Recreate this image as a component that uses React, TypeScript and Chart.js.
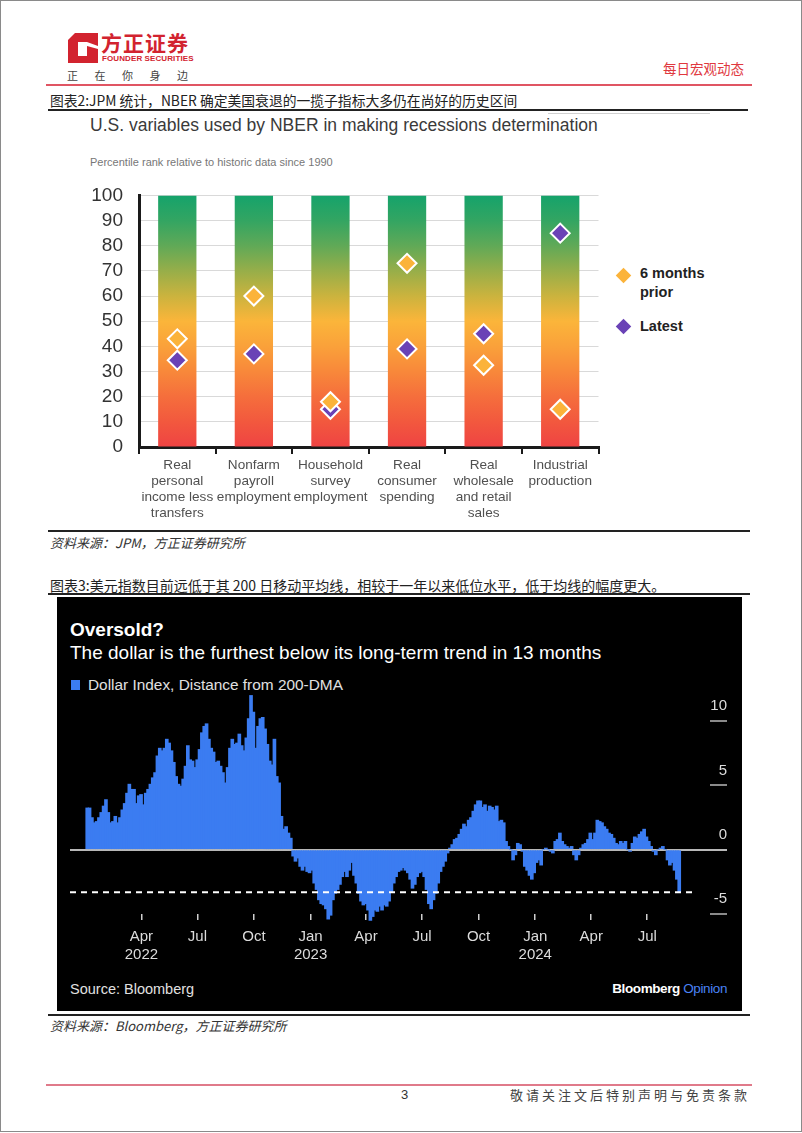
import React, { useEffect, useRef } from 'react';
import { Chart, registerables } from 'chart.js';

Chart.register(...registerables);

// ---------------- Chart 1 (JPM / NBER) data ----------------
const NBER_CATEGORIES = [
  ['Real', 'personal', 'income less', 'transfers'],
  ['Nonfarm', 'payroll', 'employment'],
  ['Household', 'survey', 'employment'],
  ['Real', 'consumer', 'spending'],
  ['Real', 'wholesale', 'and retail', 'sales'],
  ['Industrial', 'production'],
];
const SIX_MONTHS_PRIOR = [43, 60, 18, 73, 32.5, 15];
const LATEST = [34.5, 37, 15, 39, 45, 85];
const PERCENTILE_RANGE = [100, 100, 100, 100, 100, 100];
const NBER_Y_MIN = 0;
const NBER_Y_MAX = 100;
const NBER_Y_STEP = 10;

// ---------------- Chart 2 (Bloomberg DXY) data ----------------
const DXY_START = '2022-01-03';
const DXY_END = '2024-08-22';
// Dollar Index distance from 200-DMA (%), evenly spaced samples, Jan 2022 -> Oct 2022
const DXY_DIST_SEG1 = [
  3.25, 3.25, 2.5, 2.1, 2.2, 2.5, 2.9, 3.4, 3.9, 2.9,
  2.1, 2.2, 2.6, 2.1, 2.5, 3.1, 3.6, 4.4, 5.1, 4.7,
  4.7, 3.6, 4.2, 4.3, 3.5, 4.4, 4.7, 5.1, 5.6, 6.0,
  7.3, 7.9, 7.7, 7.9, 8.6, 8.3, 7.7, 6.8, 5.7, 5.1,
  4.95, 5.5, 6.5, 8.1, 7.0, 6.9, 6.4, 7.0, 7.8, 9.1,
  9.6, 9.8, 8.6, 7.9, 7.6, 6.8, 6.9, 6.5, 6.0, 5.2,
  6.4, 7.9, 8.6, 8.2, 8.3, 9.0, 8.1, 7.7, 8.7, 10.2,
  12.0, 10.7, 7.9, 9.6, 10.2, 10.3, 9.4, 8.2, 6.9, 6.6,
  8.6, 5.7, 5.2, 2.6, 1.6, 1.8, 1.3, 0.9,
];
// Oct 2022 -> Oct 2023
const DXY_DIST_SEG2 = [
  -0.5, -0.9, -0.65, -1.3, -1.6, -1.3, -1.7, -1.8, -1.6, -2.6,
  -3.1, -3.9, -4.2, -4.3, -4.6, -5.4, -5.1, -3.9, -3.4, -3.1,
  -2.7, -2.1, -1.7, -2.1, -1.6, -1.0, -2.0, -2.6, -3.4, -4.0,
  -4.3, -4.2, -4.7, -5.5, -5.2, -4.7, -4.8, -4.4, -4.7, -4.3,
  -4.4, -4.0, -3.3, -2.6, -2.1, -1.7, -1.6, -1.4, -1.6, -1.8,
  -2.3, -3.0, -2.7, -2.1, -1.8, -1.7, -2.1, -3.1, -4.2, -4.6,
  -3.9, -3.4, -2.6, -1.7, -1.3, -0.9, -0.26, 0.13, 0.4, 0.8,
  0.9, 1.2, 1.6, 2.0, 1.8, 2.3, 2.5, 3.0, 3.5, 3.8,
  3.8, 3.3, 3.5, 3.0, 3.4,
];
// Oct 2023 -> Aug 2024
const DXY_DIST_SEG3 = [
  3.3, 3.1, 3.4, 2.2, 2.3, 2.1, 0.65, 0.26, 0, -0.8,
  -0.4, 0.5, 0.4, -0.13, -1.3, -1.6, -2.0, -2.3, -1.8, -1.0,
  -0.8, -1.2, 0, 0.13, 0, -0.13, -0.26, 0.65, 0.8, 1.3,
  0.65, 0.4, 0.26, 0.13, 0.26, -0.4, -0.8, -0.4, 0.13, 0.4,
  0.5, 0.8, 1.3, 0.8, 1.3, 2.3, 2.2, 2.1, 1.8, 1.6,
  1.3, 1.2, 0.9, 0.5, 0.4, 0.65, 0.5, 0.65, 0, -0.13,
  0.5, 1.0, 0.9, 1.2, 1.4, 1.6, 1.0, 0.65, 0.26, -0.13,
  -0.4, 0, 0.13, 0.26, 0, -0.8, -1.2, -1.0, -1.6, -2.3,
  -3.3,
];
const DASH_LEVEL = -3.3;
const DASH_END_DATE = '2024-09-18';
const X_MIN_DATE = '2021-12-06';
const X_MAX_DATE = '2024-10-11';
const X_TICK_DATES = [
  '2022-04-01', '2022-07-01', '2022-10-01', '2023-01-01', '2023-04-01',
  '2023-07-01', '2023-10-01', '2024-01-01', '2024-04-01', '2024-07-01',
];
const X_TICK_MONTHS = ['Apr', 'Jul', 'Oct', 'Jan', 'Apr', 'Jul', 'Oct', 'Jan', 'Apr', 'Jul'];
const X_TICK_YEARS = ['2022', '', '', '2023', '', '', '', '2024', '', ''];
const Y2_TICKS = [-5, 0, 5, 10];
const Y2_MIN = -5;
const Y2_MAX = 12.5;

// ---------------- styling ----------------
const ORANGE = '#FBB33A';
const PURPLE = '#6A42B6';
const BLUE = '#3B7CF1';
const RED = '#D2232F';
const SANS = '"Liberation Sans", Arial, sans-serif';
const CJK = '"Noto Sans CJK SC", sans-serif';

const day = (s: string) => Date.parse(s) / 86400000;

function NberChart() {
  const ref = useRef<HTMLCanvasElement | null>(null);
  useEffect(() => {
    const gradient = (ctx: any) => {
      const chart = ctx.chart;
      const area = chart.chartArea;
      if (!area) return ORANGE;
      const g = chart.ctx.createLinearGradient(0, area.bottom, 0, area.top);
      g.addColorStop(0, '#EF4343');
      g.addColorStop(0.1, '#F2583E');
      g.addColorStop(0.2, '#F56E3C');
      g.addColorStop(0.3, '#F8883A');
      g.addColorStop(0.4, '#FAA13A');
      g.addColorStop(0.5, '#FBB53A');
      g.addColorStop(0.6, '#CBB33E');
      g.addColorStop(0.7, '#97AE49');
      g.addColorStop(0.8, '#60A957');
      g.addColorStop(0.9, '#33A562');
      g.addColorStop(1, '#15A36B');
      return g;
    };
    const pointDs = (label: string, data: number[], color: string, order: number) => ({
      type: 'line' as const,
      label,
      data,
      showLine: false,
      pointStyle: 'rectRot',
      pointRadius: 9.5,
      pointHoverRadius: 9.5,
      pointBackgroundColor: color,
      pointBorderColor: '#ffffff',
      pointBorderWidth: 2,
      order,
    });
    const chart = new Chart(ref.current as HTMLCanvasElement, {
      type: 'bar',
      data: {
        labels: NBER_CATEGORIES as any,
        datasets: [
          pointDs('6 months prior', SIX_MONTHS_PRIOR, ORANGE, 0) as any,
          pointDs('Latest', LATEST, PURPLE, 1) as any,
          {
            type: 'bar',
            label: 'range',
            data: PERCENTILE_RANGE,
            backgroundColor: gradient,
            barPercentage: 0.5,
            categoryPercentage: 1,
            order: 2,
          },
        ],
      },
      options: {
        responsive: false,
        animation: false,
        layout: { padding: { top: 4, left: 0, right: 1, bottom: 0 } },
        plugins: { legend: { display: false }, tooltip: { enabled: false } },
        scales: {
          x: {
            offset: true,
            grid: {
              offset: true,
              drawOnChartArea: false,
              drawTicks: true,
              tickLength: 7,
              color: '#1a1a1a',
              lineWidth: 2,
            },
            border: { display: true, color: '#1a1a1a', width: 3 },
            ticks: {
              font: { family: SANS, size: 13.6, lineHeight: 1.18 },
              color: '#505050',
              padding: 3,
              maxRotation: 0,
              autoSkip: false,
            },
            afterFit: (s: any) => {
              s.height = 80;
            },
          } as any,
          y: {
            min: NBER_Y_MIN,
            max: NBER_Y_MAX,
            ticks: {
              stepSize: NBER_Y_STEP,
              autoSkip: false,
              font: { family: SANS, size: 19 },
              color: '#333333',
              padding: 16,
            },
            grid: { color: '#d9d9d9', lineWidth: 1, drawTicks: false },
            border: { color: '#1a1a1a', width: 3 },
            afterFit: (s: any) => {
              s.width = 59;
            },
          } as any,
        },
      },
    });
    return () => chart.destroy();
  }, []);
  return (
    <canvas
      ref={ref}
      width={530}
      height={359}
      style={{ position: 'absolute', left: 80, top: 168, width: 530, height: 359 }}
    />
  );
}

function DollarChart() {
  const ref = useRef<HTMLCanvasElement | null>(null);
  useEffect(() => {
    const values = [...DXY_DIST_SEG1, ...DXY_DIST_SEG2, ...DXY_DIST_SEG3];
    const n = values.length;
    const s0 = day(DXY_START);
    const s1 = day(DXY_END);
    const points = values.map((v, i) => ({ x: s0 + ((s1 - s0) * i) / (n - 1), y: v }));
    const ZERO = '#b8b8b8';
    const chart = new Chart(ref.current as HTMLCanvasElement, {
      type: 'bar',
      data: {
        datasets: [
          {
            type: 'line',
            label: 'level',
            data: [
              { x: day(X_MIN_DATE), y: DASH_LEVEL },
              { x: day(DASH_END_DATE), y: DASH_LEVEL },
            ],
            borderColor: '#ffffff',
            borderWidth: 2,
            borderDash: [6, 5],
            pointRadius: 0,
            order: 0,
          } as any,
          {
            type: 'bar',
            label: 'Dollar Index, Distance from 200-DMA',
            data: points as any,
            backgroundColor: BLUE,
            borderWidth: 0,
            barThickness: 3,
            clip: false,
            order: 1,
          } as any,
        ],
      },
      options: {
        responsive: false,
        animation: false,
        layout: { padding: { left: 13, right: 15, top: 0, bottom: 0 } },
        plugins: { legend: { display: false }, tooltip: { enabled: false } },
        scales: {
          x: {
            type: 'linear',
            min: day(X_MIN_DATE),
            max: day(X_MAX_DATE),
            offset: false,
            afterBuildTicks: (s: any) => {
              s.ticks = X_TICK_DATES.map((d) => ({ value: day(d) }));
            },
            ticks: {
              autoSkip: false,
              maxRotation: 0,
              color: '#dcdcdc',
              font: { family: SANS, size: 15, lineHeight: 1.2 },
              padding: 8,
              callback: (_v: any, i: number) => [X_TICK_MONTHS[i], X_TICK_YEARS[i]],
            },
            grid: {
              offset: false,
              drawOnChartArea: false,
              drawTicks: true,
              tickLength: 6,
              tickColor: '#cfcfcf',
              color: '#cfcfcf',
              lineWidth: 1.5,
            },
            border: { display: false },
            afterFit: (s: any) => {
              s.height = 50;
            },
          } as any,
          y: {
            position: 'right',
            min: Y2_MIN,
            max: Y2_MAX,
            afterBuildTicks: (s: any) => {
              s.ticks = Y2_TICKS.map((v) => ({ value: v }));
            },
            ticks: {
              crossAlign: 'far',
              labelOffset: -15,
              padding: 0,
              color: '#dcdcdc',
              font: { family: SANS, size: 15 },
              callback: (v: any) => String(v),
            },
            grid: {
              drawOnChartArea: true,
              drawTicks: true,
              tickLength: 17,
              lineWidth: 2,
              color: (c: any) => (c.tick && c.tick.value === 0 ? ZERO : 'rgba(0,0,0,0)'),
              tickColor: (c: any) => (c.tick && c.tick.value === 0 ? ZERO : '#8a8a8a'),
            },
            border: { display: false },
            afterFit: (s: any) => {
              s.width = 17;
            },
          } as any,
        },
      },
    });
    return () => chart.destroy();
  }, []);
  return (
    <canvas
      ref={ref}
      width={685}
      height={284}
      style={{ position: 'absolute', left: 57, top: 680, width: 685, height: 284 }}
    />
  );
}

const abs = (left: number, top: number, extra: React.CSSProperties = {}): React.CSSProperties => ({
  position: 'absolute',
  left,
  top,
  whiteSpace: 'nowrap',
  ...extra,
});

function Diamond({ cx, cy, size, color }: { cx: number; cy: number; size: number; color: string }) {
  return (
    <div
      style={{
        position: 'absolute',
        left: cx - size / 2,
        top: cy - size / 2,
        width: size,
        height: size,
        background: color,
        transform: 'rotate(45deg)',
      }}
    />
  );
}

export default function App() {
  useEffect(() => {
    document.body.style.margin = '0';
  }, []);
  return (
    <div
      style={{
        position: 'absolute',
        left: 0,
        top: 0,
        width: 802,
        height: 1133,
        background: '#ffffff',
        overflow: 'hidden',
        fontFamily: SANS,
      }}
    >
      {/* page frame */}
      <div
        style={{
          position: 'absolute',
          left: 0,
          top: 0,
          width: 802,
          height: 1132,
          boxSizing: 'border-box',
          border: '1px solid #8a8a8a',
        }}
      />

      {/* header */}
      <svg width="30" height="30" viewBox="0 0 30 30" style={{ position: 'absolute', left: 68, top: 33 }}>
        <path d="M7 0 H30 V30 H0 V7 Z" fill={RED} />
        <path d="M10 9 H19 V23 H10 Z" fill="#ffffff" />
        <path d="M19 9 L30 13 V16 L19 13 Z" fill="#ffffff" />
      </svg>
      <div
        style={abs(101, 30, {
          fontFamily: CJK,
          fontWeight: 700,
          fontSize: 21,
          lineHeight: '24px',
          color: RED,
          letterSpacing: 1,
        })}
      >
        方正证券
      </div>
      <div
        style={abs(102, 54, {
          fontWeight: 700,
          fontSize: 8,
          lineHeight: '10px',
          color: RED,
          letterSpacing: 0.1,
        })}
      >
        FOUNDER SECURITIES
      </div>
      <div
        style={abs(67, 68, {
          fontFamily: CJK,
          fontSize: 11,
          lineHeight: '14px',
          color: '#444',
          letterSpacing: 16.5,
        })}
      >
        正在你身边
      </div>
      <div style={abs(663, 59, { fontFamily: CJK, fontSize: 13.5, lineHeight: '18px', color: '#E0383E' })}>
        每日宏观动态
      </div>
      <div style={{ position: 'absolute', left: 46, top: 84, width: 706, height: 1.5, background: '#E05563' }} />

      {/* figure 2 title */}
      <div style={abs(50, 91, { fontFamily: CJK, fontSize: 13.8, lineHeight: '18px', color: '#222' })}>
        图表2:JPM 统计，NBER 确定美国衰退的一揽子指标大多仍在尚好的历史区间
      </div>
      <div style={{ position: 'absolute', left: 48, top: 109, width: 700, height: 2, background: '#222' }} />
      <div style={{ position: 'absolute', left: 548, top: 113, width: 162, height: 1, background: '#d0d0d0' }} />

      {/* chart 1 */}
      <div style={abs(90, 114, { fontSize: 17.5, lineHeight: '22px', color: '#3a3a3a' })}>
        U.S. variables used by NBER in making recessions determination
      </div>
      <div style={abs(90, 155, { fontSize: 11, lineHeight: '14px', color: '#777' })}>
        Percentile rank relative to historic data since 1990
      </div>
      <NberChart />
      <Diamond cx={623} cy={275} size={11} color={ORANGE} />
      <div style={abs(640, 264, { fontWeight: 700, fontSize: 14.5, lineHeight: '19px', color: '#222' })}>
        6 months
        <br />
        prior
      </div>
      <Diamond cx={623} cy={326} size={11} color={PURPLE} />
      <div style={abs(640, 317, { fontWeight: 700, fontSize: 14.5, lineHeight: '19px', color: '#222' })}>Latest</div>

      {/* source 1 */}
      <div style={{ position: 'absolute', left: 48, top: 530, width: 702, height: 2, background: '#222' }} />
      <div
        style={abs(50, 535, {
          fontFamily: CJK,
          fontStyle: 'italic',
          fontSize: 13,
          lineHeight: '16px',
          color: '#333',
        })}
      >
        资料来源：JPM，方正证券研究所
      </div>

      {/* figure 3 title */}
      <div style={abs(50, 576, { fontFamily: CJK, fontSize: 14, lineHeight: '18px', color: '#222' })}>
        图表3:美元指数目前远低于其 200 日移动平均线，相较于一年以来低位水平，低于均线的幅度更大。
      </div>
      <div style={{ position: 'absolute', left: 48, top: 593, width: 702, height: 2, background: '#222' }} />

      {/* chart 2 box */}
      <div style={{ position: 'absolute', left: 57, top: 597, width: 685, height: 414, background: '#000' }} />
      <div style={abs(70, 618, { fontWeight: 700, fontSize: 19, lineHeight: '24px', color: '#fff' })}>Oversold?</div>
      <div style={abs(70, 641, { fontSize: 19, lineHeight: '24px', color: '#fff' })}>
        The dollar is the furthest below its long-term trend in 13 months
      </div>
      <div style={{ position: 'absolute', left: 71, top: 680, width: 9, height: 10, background: BLUE }} />
      <div style={abs(88, 675, { fontSize: 15.4, lineHeight: '20px', color: '#e0e0e0' })}>
        Dollar Index, Distance from 200-DMA
      </div>
      <DollarChart />
      <div style={abs(70, 980, { fontSize: 14.5, lineHeight: '19px', color: '#e0e0e0' })}>Source: Bloomberg</div>
      <div
        style={{
          position: 'absolute',
          right: 802 - 727,
          top: 979,
          whiteSpace: 'nowrap',
          fontWeight: 700,
          fontSize: 13.5,
          lineHeight: '19px',
          letterSpacing: -0.4,
        }}
      >
        <span style={{ color: '#fff' }}>Bloomberg</span>
        <span style={{ color: '#4A82F5', fontWeight: 400 }}> Opinion</span>
      </div>

      {/* source 2 */}
      <div style={{ position: 'absolute', left: 48, top: 1014, width: 702, height: 2, background: '#222' }} />
      <div
        style={abs(50, 1018, {
          fontFamily: CJK,
          fontStyle: 'italic',
          fontSize: 13,
          lineHeight: '16px',
          color: '#333',
        })}
      >
        资料来源：Bloomberg，方正证券研究所
      </div>

      {/* footer */}
      <div style={{ position: 'absolute', left: 46, top: 1084, width: 706, height: 1.5, background: '#E07A8A' }} />
      <div style={abs(401, 1087, { fontSize: 13, lineHeight: '16px', color: '#333' })}>3</div>
      <div
        style={abs(510, 1087, {
          fontFamily: CJK,
          fontSize: 13,
          lineHeight: '16px',
          color: '#444',
          letterSpacing: 3,
        })}
      >
        敬请关注文后特别声明与免责条款
      </div>
    </div>
  );
}
